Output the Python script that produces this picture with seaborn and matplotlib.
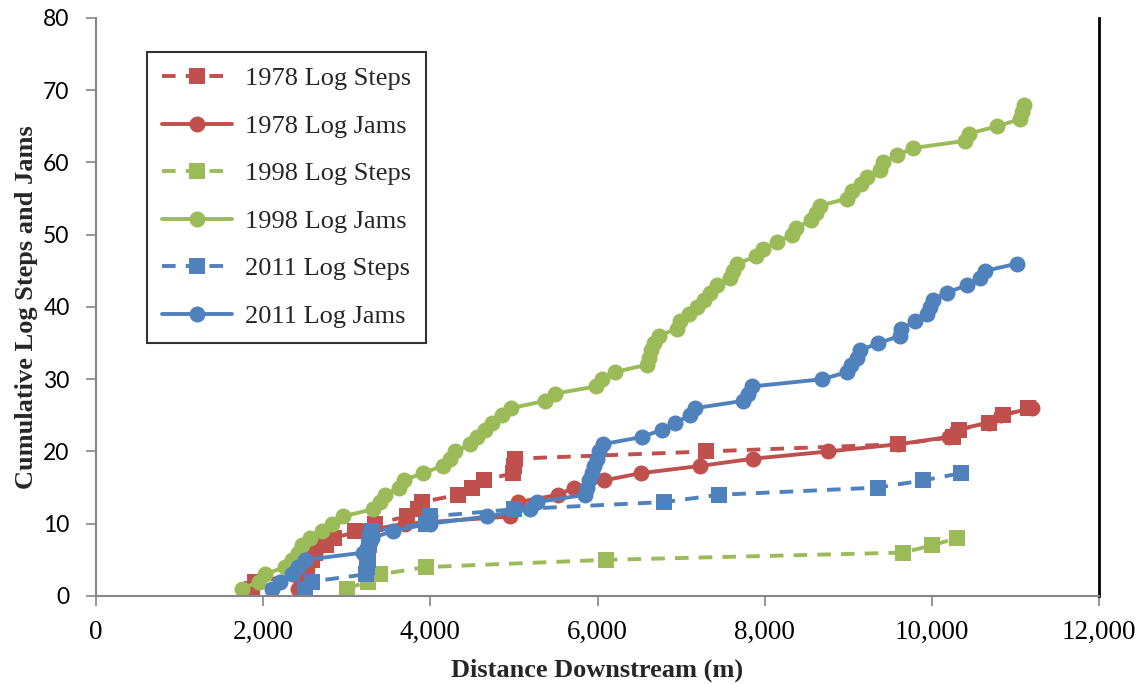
import numpy as np
import pandas as pd
import matplotlib
matplotlib.use("Agg")
import matplotlib.pyplot as plt
import seaborn as sns

# ---------------- data ----------------
steps78_x = [1870, 1900, 2470, 2520, 2580, 2620, 2750, 2850, 3100, 3340, 3720, 3850, 3900,
             4330, 4500, 4640, 4990, 5000, 5010, 7300, 9600, 10250, 10330, 10680, 10850, 11150]
steps78_y = [1, 2, 3, 4, 5, 6, 7, 8, 9, 10, 11, 12, 13, 14, 15, 16, 17, 18, 19, 20,
             21, 22, 23, 24, 25, 26]

jams78_x = [2420, 2450, 2480, 2520, 2560, 2620, 2700, 2800, 3200, 3700, 4950, 5000, 5050,
            5530, 5720, 6080, 6520, 7230, 7860, 8760, 9600, 10200, 10300, 10680, 10830, 11200]
jams78_y = [1, 2, 3, 4, 5, 6, 7, 8, 9, 10, 11, 12, 13, 14, 15, 16, 17, 18, 19, 20,
            21, 22, 23, 24, 25, 26]

steps98_x = [3000, 3250, 3400, 3950, 6100, 9650, 10000, 10300]
steps98_y = [1, 2, 3, 4, 5, 6, 7, 8]

jams98_x = [1750, 1950, 2020, 2260, 2350, 2420, 2460, 2560, 2700, 2820, 2950, 3310, 3400,
            3460, 3620, 3680, 3910, 4150, 4230, 4300, 4480, 4560, 4650, 4740, 4860, 4970,
            5370, 5490, 5980, 6050, 6210, 6590, 6620, 6640, 6670, 6730, 6950, 6990, 7100,
            7190, 7280, 7350, 7430, 7590, 7620, 7670, 7900, 7980, 8150, 8330, 8380, 8560,
            8620, 8660, 8980, 9050, 9150, 9220, 9380, 9420, 9580, 9780, 10400, 10440,
            10780, 11050, 11080, 11100]
jams98_y = [1, 2, 3, 4, 5, 6, 7, 8, 9, 10, 11, 12, 13, 14, 15, 16, 17, 18, 19, 20,
            21, 22, 23, 24, 25, 26, 27, 28, 29, 30, 31, 32, 33, 34, 35, 36, 37, 38, 39, 40,
            41, 42, 43, 44, 45, 46, 47, 48, 49, 50, 51, 52, 53, 54, 55, 56, 57, 58, 59, 60,
            61, 62, 63, 64, 65, 66, 67, 68]

steps11_x = [2500, 2580, 3230, 3240, 3250, 3260, 3270, 3280, 3300, 3950, 4000, 5000,
             6800, 7450, 9350, 9900, 10350]
steps11_y = [1, 2, 3, 4, 5, 6, 7, 8, 9, 10, 11, 12, 13, 14, 15, 16, 17]

jams11_x = [2100, 2200, 2350, 2420, 2500, 3200, 3260, 3300, 3550, 3990, 4680, 5190, 5280,
            5850, 5870, 5900, 5930, 5960, 5990, 6020, 6060, 6530, 6770, 6930, 7110, 7170,
            7740, 7800, 7850, 8690, 8990, 9030, 9100, 9140, 9360, 9620, 9630, 9800, 9940,
            9980, 10010, 10180, 10420, 10580, 10640, 11020]
jams11_y = [1, 2, 3, 4, 5, 6, 7, 8, 9, 10, 11, 12, 13, 14, 15, 16, 17, 18, 19, 20,
            21, 22, 23, 24, 25, 26, 27, 28, 29, 30, 31, 32, 33, 34, 35, 36, 37, 38, 39, 40,
            41, 42, 43, 44, 45, 46]

series_labels = ["1978 Log Steps", "1978 Log Jams", "1998 Log Steps",
                 "1998 Log Jams", "2011 Log Steps", "2011 Log Jams"]
series_x = [steps78_x, jams78_x, steps98_x, jams98_x, steps11_x, jams11_x]
series_y = [steps78_y, jams78_y, steps98_y, jams98_y, steps11_y, jams11_y]

x_ticks = [0, 2000, 4000, 6000, 8000, 10000, 12000]
x_ticklabels = ["0", "2,000", "4,000", "6,000", "8,000", "10,000", "12,000"]
y_ticks = [0, 10, 20, 30, 40, 50, 60, 70, 80]

# ---------------- style ----------------
RED, GREEN, BLUE = "#C0504D", "#9BBB59", "#4F81BD"
colors = [RED, RED, GREEN, GREEN, BLUE, BLUE]
is_steps = [True, False, True, False, True, False]

sns.set_theme(style="white")
plt.rcParams["font.family"] = ["Liberation Serif", "DejaVu Serif"]

fig = plt.figure(figsize=(11.43, 6.84), dpi=100)
ax = fig.add_axes([0.084, 0.1287, 0.8775, 0.845])

for lab, xs, ys, c, st in zip(series_labels, series_x, series_y, colors, is_steps):
    df = pd.DataFrame({"x": xs, "y": ys})
    sns.lineplot(data=df, x="x", y="y", ax=ax, color=c, label=lab,
                 estimator=None, sort=False,
                 marker="s" if st else "o", markersize=11 if st else 11.5,
                 markeredgewidth=0, markeredgecolor=c,
                 linewidth=2.8,
                 linestyle=(0, (3.5, 2.6)) if st else "-")

ax.set_xlim(0, 12000)
ax.set_ylim(0, 80)
ax.set_xticks(x_ticks)
ax.set_xticklabels(x_ticklabels, fontsize=19.5, family=["Liberation Serif"])
ax.set_yticks(y_ticks)
ax.set_yticklabels([str(v) for v in y_ticks], fontsize=16.5, family=["Lato", "DejaVu Sans"])
ax.set_xlabel("Distance Downstream (m)", fontsize=19, fontweight="bold", labelpad=10)
ax.set_ylabel("Cumulative Log Steps and Jams", fontsize=19, fontweight="bold", labelpad=4)

for side in ["left", "bottom"]:
    ax.spines[side].set_color("#868686")
    ax.spines[side].set_linewidth(1.5)
ax.spines["top"].set_visible(False)
ax.spines["right"].set_color("black")
ax.spines["right"].set_linewidth(2)
ax.tick_params(axis="both", which="major", direction="out", length=7, width=1.2,
               color="#868686", left=True, bottom=True, labelcolor="black")
ax.tick_params(axis="x", pad=10)
ax.tick_params(axis="y", pad=12)
ax.grid(False)

leg = ax.legend(loc="upper left", bbox_to_anchor=(0.051, 0.941), borderaxespad=0,
                fontsize=19, frameon=True, fancybox=False, handlelength=2.65,
                labelspacing=0.91, borderpad=0.56, handletextpad=0.5)
leg.get_frame().set_edgecolor("black")
leg.get_frame().set_linewidth(1.5)

fig.savefig("out.png", dpi=100, facecolor="white")
